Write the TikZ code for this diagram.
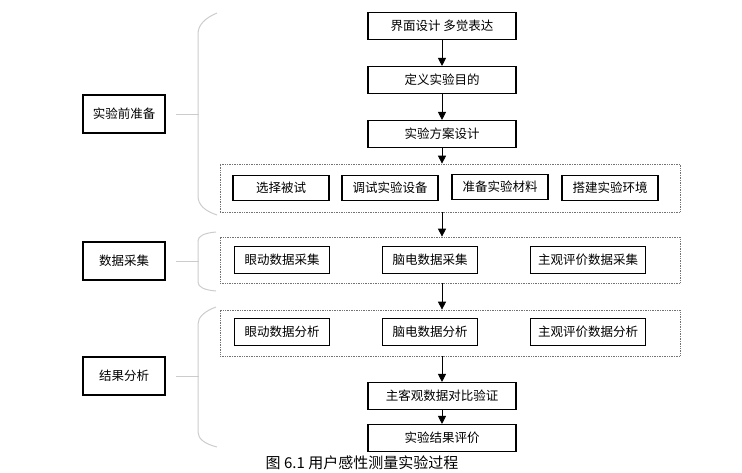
\documentclass[tikz,border=0pt]{standalone}
\usepackage{fontspec}
\setmainfont{Noto Sans CJK SC}
\usetikzlibrary{arrows.meta,positioning}

\tikzset{
  box/.style={draw, line width=1.1pt, inner sep=1pt, font=\fontsize{12.5}{13}\selectfont},
  wide/.style={box, minimum width=148pt, minimum height=27pt},
  sub/.style={box, minimum width=96pt, minimum height=25pt},
  group/.style={draw=black!55, densely dotted, line width=0.7pt, minimum width=460pt},
  stage/.style={box, minimum width=82pt, minimum height=38pt},
  brace/.style={draw=black!20, line width=1pt},
}

\begin{document}
\begin{tikzpicture}[x=1pt, y=-1pt, >={Triangle[length=8pt,width=8pt]}]
    \useasboundingbox (0,0) rectangle (742,472);

    % Main column
    \node [wide]    (ui)      at (442,26)  {界面设计 多觉表达};
    \node [wide]    (goal)    at (442,80)  {定义实验目的};
    \node [wide]    (plan)    at (442,134) {实验方案设计};

    % Dashed groups
    \node [group, minimum height=48pt] (prep)    at (450,188) {};
    \node [group, minimum height=46pt] (collect) at (450,260) {};
    \node [group, minimum height=46pt] (analyse) at (450,333) {};

    % Preparation tasks
    \node [sub]     (subject) at (281,188) {选择被试};
    \node [sub]     (device)  at (390,188) {调试实验设备};
    \node [sub]     (material) at (500,187) {准备实验材料};
    \node [sub]     (setup)   at (610,188) {搭建实验环境};

    % Data collection
    \node [sub, minimum width=95pt, minimum height=27pt]  (eyec)  at (282,260) {眼动数据采集};
    \node [sub, minimum width=95pt, minimum height=27pt]  (eegc)  at (430,260) {脑电数据采集};
    \node [sub, minimum width=115pt, minimum height=27pt] (subjc) at (588,260) {主观评价数据采集};

    % Data analysis
    \node [sub, minimum width=95pt, minimum height=27pt]  (eyea)  at (282,332) {眼动数据分析};
    \node [sub, minimum width=95pt, minimum height=27pt]  (eega)  at (430,332) {脑电数据分析};
    \node [sub, minimum width=115pt, minimum height=27pt] (subja) at (588,332) {主观评价数据分析};

    \node [wide]    (verify)  at (442,396) {主客观数据对比验证};
    \node [wide]    (result)  at (442,438) {实验结果评价};

    % Stages
    \node [stage]   (pre)     at (124,114) {实验前准备};
    \node [stage]   (data)    at (124,261) {数据采集};
    \node [stage]   (res)     at (124,376) {结果分析};

    % Caption
    \node (caption) at (362,463) {\fontsize{15}{15}\selectfont 图 6.1 用户感性测量实验过程};

    % Paths
    \path [->, line width=0.8pt] (ui)   edge (goal);
    \path [->, line width=0.8pt] (goal) edge (plan);
    \draw [->, line width=0.8pt] (plan) -- (plan |- prep.north);
    \draw [->, line width=0.8pt] (plan |- prep.south) -- (plan |- collect.north);
    \draw [->, line width=0.8pt] (plan |- collect.south) -- (plan |- analyse.north);
    \draw [->, line width=0.8pt] (plan |- analyse.south) -- (verify);
    \path [->, line width=0.8pt] (verify) edge (result);

    % Braces
    \draw [brace] (217,13) .. controls (205,18) and (198,25) .. (198,34) -- (198,196)
                  .. controls (198,205) and (205,211) .. (217,215);
    \draw [brace] (216,232) .. controls (204,233) and (198,236) .. (198,241) -- (198,282)
                  .. controls (198,287) and (204,290) .. (216,291);
    \draw [brace] (216,307) .. controls (205,311) and (198,317) .. (198,324) -- (198,432)
                  .. controls (198,439) and (205,444) .. (217,447);
    \draw [brace] ([xshift=10pt]pre.east)  -- +(23,0);
    \draw [brace] ([xshift=10pt]data.east) -- +(23,0);
    \draw [brace] ([xshift=10pt]res.east)  -- +(23,0);
\end{tikzpicture}
\end{document}
